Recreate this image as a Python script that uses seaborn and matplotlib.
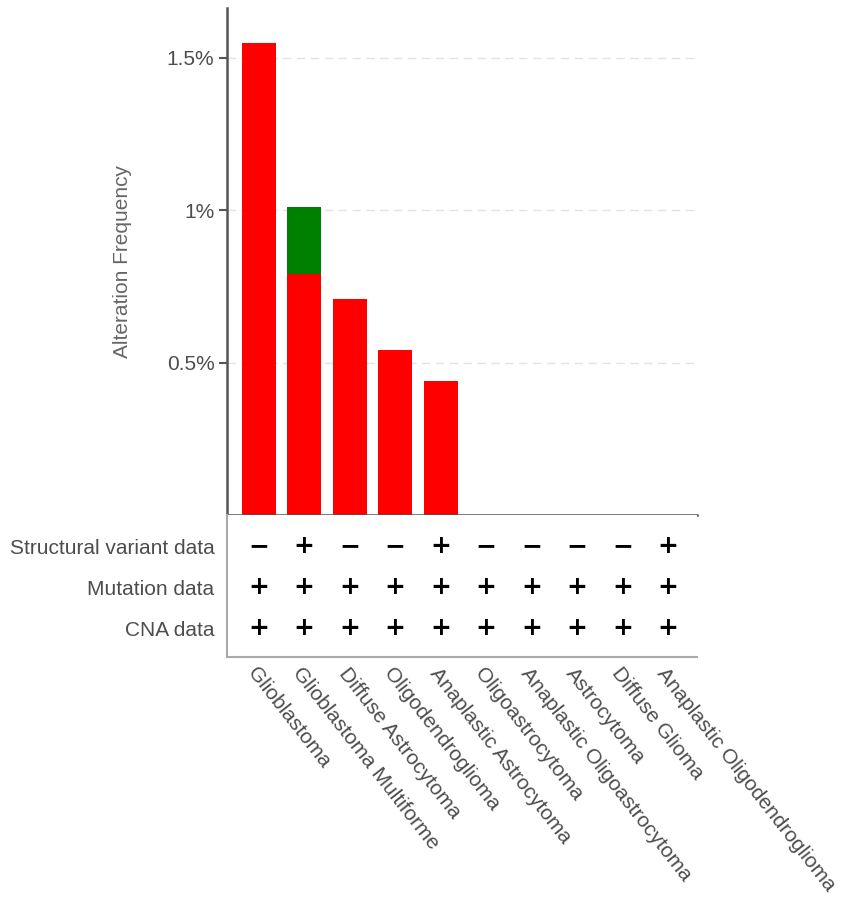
import numpy as np
import pandas as pd
import seaborn as sns
import matplotlib.pyplot as plt

# data (percent)
cancer_types = ['Glioblastoma', 'Glioblastoma Multiforme', 'Diffuse Astrocytoma',
                'Oligodendroglioma', 'Anaplastic Astrocytoma', 'Oligoastrocytoma',
                'Anaplastic Oligoastrocytoma', 'Astrocytoma', 'Diffuse Glioma',
                'Anaplastic Oligodendroglioma']
mutation_freq = [1.55, 0.79, 0.71, 0.54, 0.44, 0, 0, 0, 0, 0]
sv_freq = [0, 0.22, 0, 0, 0, 0, 0, 0, 0, 0]
row_names = ['Structural variant data', 'Mutation data', 'CNA data']
sv_data = ['-', '+', '-', '-', '+', '-', '-', '-', '-', '+']
mut_data = ['+'] * 10
cna_data = ['+'] * 10

df = pd.DataFrame({'type': cancer_types, 'mut': mutation_freq, 'sv': sv_freq})
df['total'] = df['mut'] + df['sv']

sns.set_theme(style='white')
plt.rcParams['font.family'] = ['Liberation Sans', 'DejaVu Sans']
txt = '#4d4d4d'

fig = plt.figure(figsize=(8.51, 9.01), dpi=100)
ax = fig.add_axes([0.2667, 0.4284, 0.5523, 0.5627])
tab = fig.add_axes([0.2667, 0.2708, 0.5523, 0.1576])

# stacked bars: total (green) underneath, mutation (red) on top of it
sns.barplot(data=df, x='type', y='total', color='#008000', saturation=1,
            width=0.75, ax=ax, order=cancer_types, linewidth=0)
sns.barplot(data=df, x='type', y='mut', color='#ff0000', saturation=1,
            width=0.75, ax=ax, order=cancer_types, linewidth=0)

ax.set_xlim(-0.7, 9.63)
ax.set_ylim(0, 1.664)
ax.set_yticks([0.5, 1, 1.5])
ax.set_yticklabels(['0.5%', '1%', '1.5%'], fontsize=15, color=txt)
for yv in [0.5, 1, 1.5]:
    ax.axhline(yv, color='#e3e3e3', lw=1, ls=(0, (6, 4)), zorder=0)
ax.set_xlabel('')
ax.set_xticklabels([])
ax.set_ylabel('Alteration Frequency', fontsize=15, color='#666666', labelpad=25)
for s in ['top', 'right']:
    ax.spines[s].set_visible(False)
for s in ['left', 'bottom']:
    ax.spines[s].set_color('#555555')
    ax.spines[s].set_linewidth(1.8)
ax.tick_params(axis='y', length=6, width=1.5, color='#555555', pad=3, left=True)
ax.tick_params(axis='x', length=3, width=1, color='#999999', bottom=True)

# the +/- table
tab.set_xlim(-0.7, 9.63)
tab.set_ylim(2.707, -0.756)
for r, vals in enumerate([sv_data, mut_data, cna_data]):
    for i, v in enumerate(vals):
        sym = '+' if v == '+' else '\u2212'
        tab.text(i, r, sym, ha='center', va='center', fontsize=18,
                 fontweight='bold', color='black', family='DejaVu Sans')
tab.set_yticks(range(3))
tab.set_yticklabels(row_names, fontsize=15, color=txt)
tab.set_xticks(range(10))
tab.set_xticklabels(cancer_types, fontsize=15, color=txt, rotation=-52,
                    ha='left', va='top', rotation_mode='anchor')
tab.tick_params(axis='y', length=0, pad=9)
tab.tick_params(axis='x', length=0, pad=5)
for s in ['top', 'right']:
    tab.spines[s].set_visible(False)
for s in ['left', 'bottom']:
    tab.spines[s].set_color('#aaaaaa')
    tab.spines[s].set_linewidth(1.5)

fig.savefig('out.png', dpi=100)
